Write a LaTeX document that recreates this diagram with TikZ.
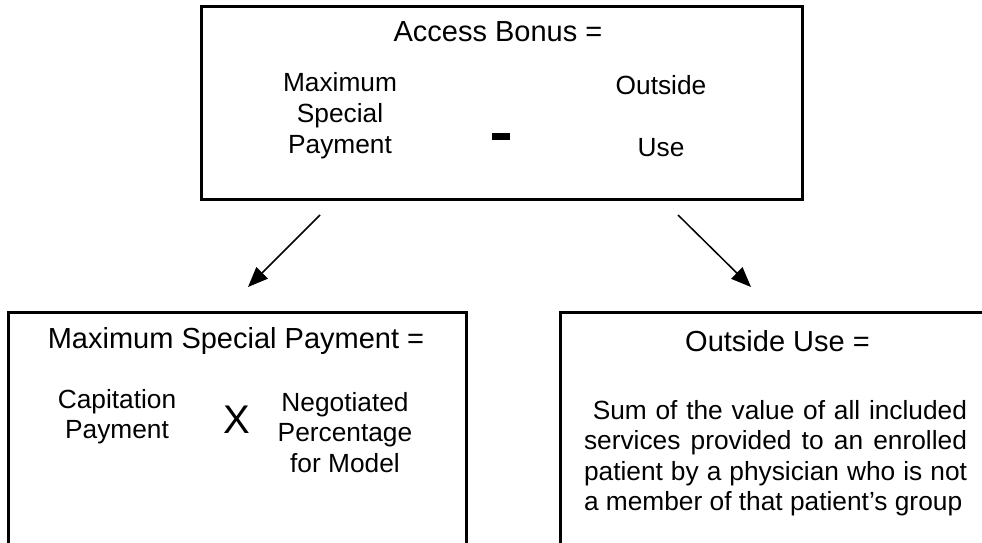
\documentclass[tikz,border=0pt]{standalone}
\usepackage{fontspec}
\setmainfont{Liberation Sans}
\usepackage{tikz}
\usetikzlibrary{arrows.meta}

\begin{document}
\begin{tikzpicture}[x=1pt, y=-1pt,
    box/.style={rectangle, draw, line width=3pt, minimum width=#1},
    title/.style={font=\fontsize{29}{34}\selectfont},
    txt/.style={font=\fontsize{26.3}{30.5}\selectfont, align=center},
    arr/.style={line width=1.5pt, -{Triangle[length=20pt, width=16pt]}},
]
\useasboundingbox (0,0) rectangle (982,543);
\clip (0,0) rectangle (982,543);

\node[box=601pt, minimum height=192pt] (bonus) at (501.5,103) {};
\node[title] (bonustitle) at (498,32) {Access Bonus =};
\node[txt, font=\fontsize{26.3}{31}\selectfont] (bonusmsp) at (340,116) {Maximum\\Special\\Payment};
\node[inner sep=0pt] (minus) at (501,136.5) {\rule{18pt}{7pt}};
\node[txt, font=\fontsize{26.3}{31}\selectfont] (bonususe) at (661,116.5) {Outside\\[31pt]Use};

\node[box=458pt, minimum height=300pt] (msp) at (237,462) {};
\node[title] (msptitle) at (236,341) {Maximum Special Payment =};
\node[txt] (capitation) at (117,416.5) {Capitation\\Payment};
\node[font=\fontsize{40}{40}\selectfont] (times) at (237,420) {X};
\node[txt] (percentage) at (345,432.5) {Negotiated\\Percentage\\for Model};

\node[box=480pt, minimum height=300pt] (use) at (800,462) {};
\node[title] (usetitle) at (777.5,341) {Outside Use =};
\node[txt, align=justify, text width=383pt] (usetext) at (775.5,458)
  {\ Sum of the value of all included\linebreak services provided to an enrolled\linebreak patient by a physician who is not\linebreak a member of that patient’s group};

\coordinate (lfrom) at (320,215);
\coordinate (lto) at (248,287);
\coordinate (rfrom) at (678,215);
\coordinate (rto) at (751,287);
\draw[arr] (lfrom) -- (lto);
\draw[arr] (rfrom) -- (rto);

\end{tikzpicture}
\end{document}
